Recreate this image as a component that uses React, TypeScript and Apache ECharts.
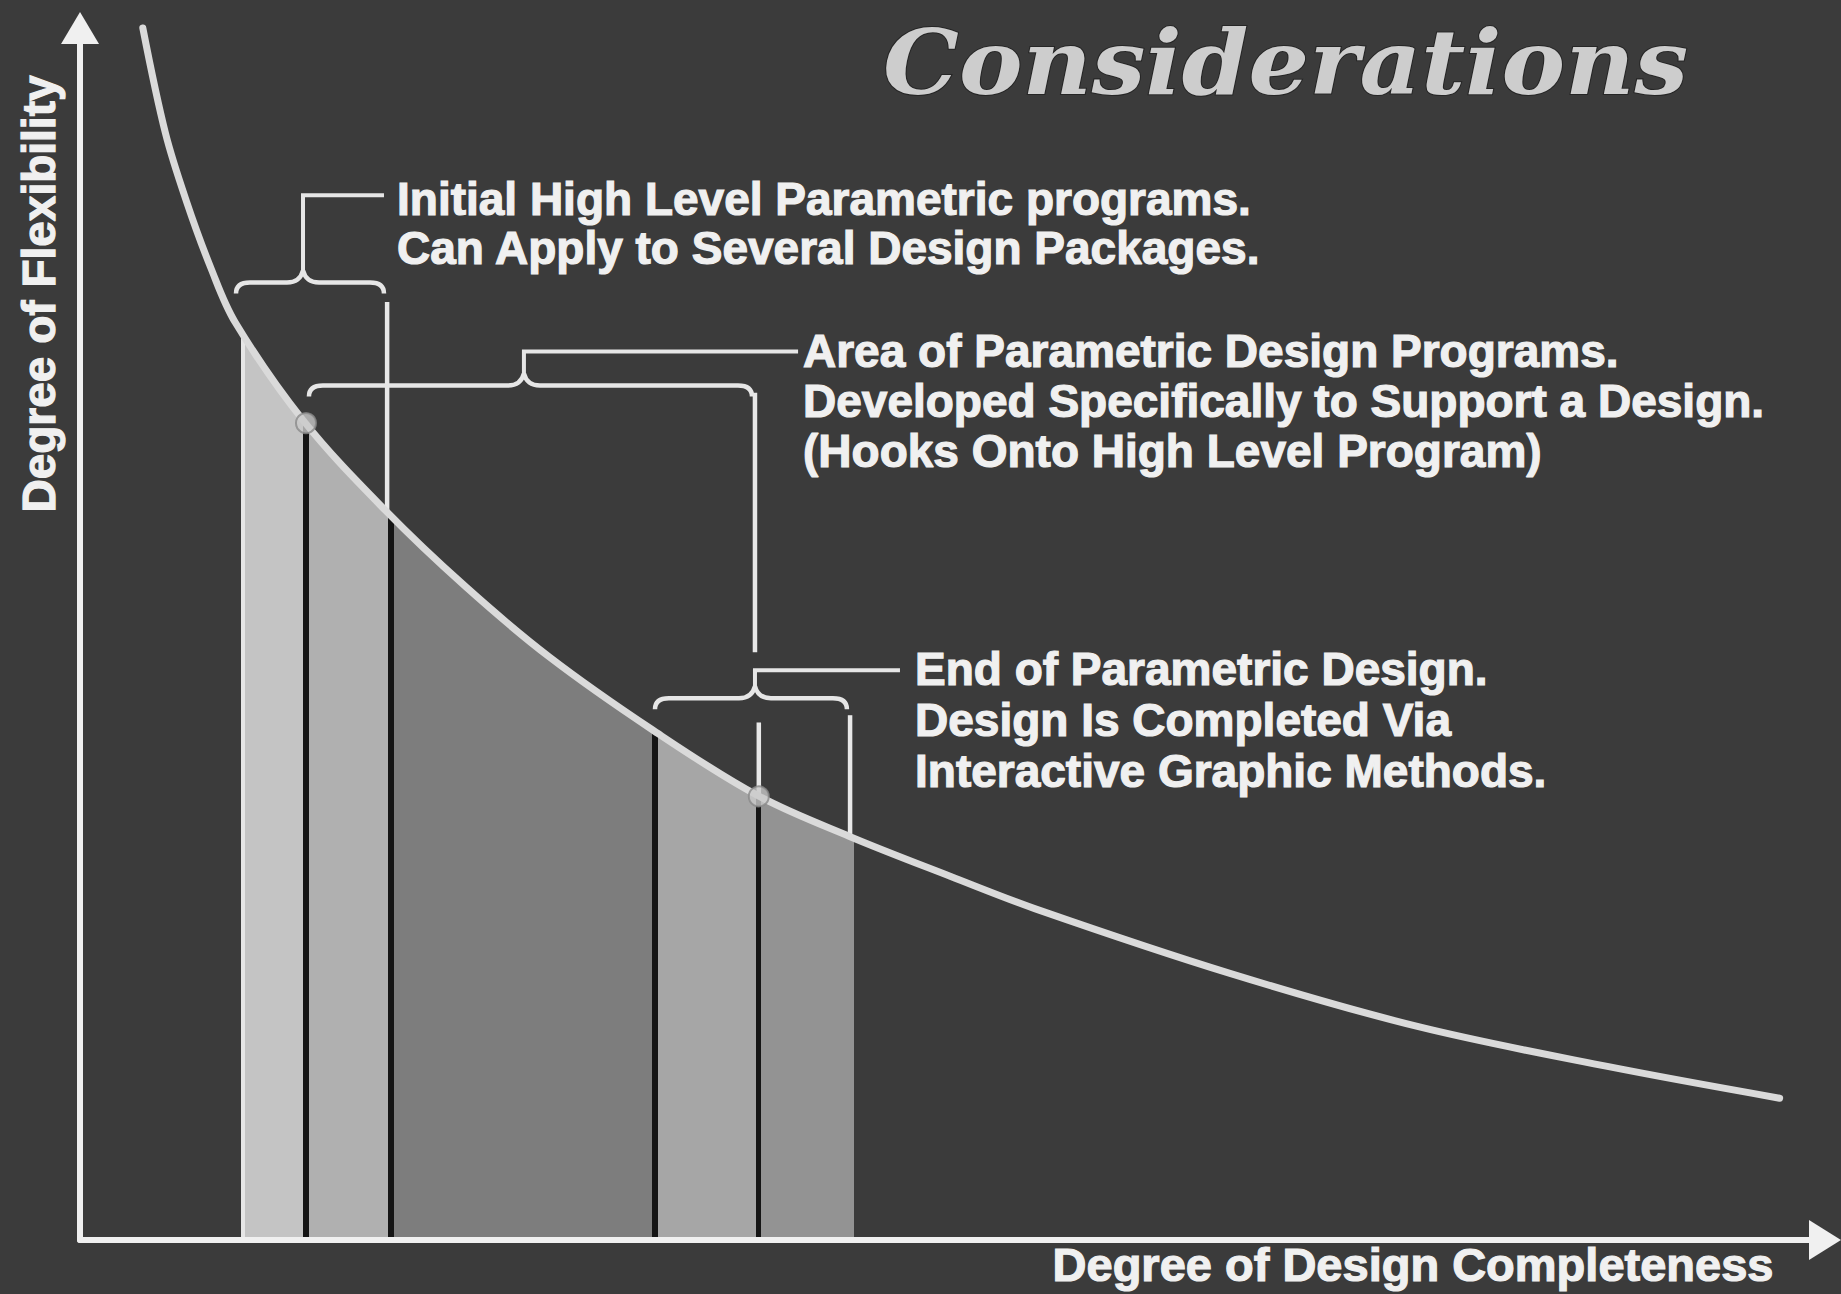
import React, { useEffect, useRef } from "react";
import * as echarts from "echarts";

// ---- Data (axis units 0..100 on both axes) ----
const curveX = [3.6, 4.9, 6.1, 7.5, 8.9, 12.8, 17.5, 22.1, 26.9, 32.8, 38.8, 44.1, 49.9, 55.0, 65.9, 76.7, 87.6, 97.4];
const curveY = [100, 91.3, 85.7, 80.2, 75.7, 67.6, 60.2, 53.9, 48.1, 42.1, 36.7, 33.3, 30.0, 27.2, 22.0, 17.6, 14.3, 11.7];

// shaded vertical strips under the curve
const regionEdges = [9.23, 12.95, 17.82, 32.95, 38.9, 44.36];
const regionShades = ["#c4c4c4", "#b0b0b0", "#7d7d7d", "#a6a6a6", "#939393"];

// points marked on the curve
const markedX = [12.95, 38.9];
const markedY = [67.4, 36.6];

// braces: [left, right, tip, braceY, leaderY, leaderEndX]
const braces = [
  [8.94, 17.42, 12.78, 79.0, 86.2, 17.42],
  [13.12, 38.51, 25.44, 70.5, 73.3, 41.15],
  [32.95, 43.95, 38.68, 44.7, 47.0, 46.99],
];

// white vertical guide segments: [x, yFrom, yTo]
const guides = [
  [17.6, 59.9, 77.4],
  [38.68, 48.5, 69.9],
  [38.9, 36.6, 42.7],
  [44.13, 33.2, 43.3],
];

const titleText = "Considerations";
const yAxisName = "Degree of Flexibility";
const xAxisName = "Degree of Design Completeness";
const note1 = ["Initial High Level Parametric programs.", "Can Apply to Several Design Packages."];
const note2 = [
  "Area of Parametric Design Programs.",
  "Developed Specifically to Support a Design.",
  "(Hooks Onto High Level Program)",
];
const note3 = ["End of Parametric Design.", "Design Is Completed Via", "Interactive Graphic Methods."];

const SANS = '"Liberation Sans", Arial, Helvetica, sans-serif';
const WHITE = "#f0f0f0";

function buildPieces() {
  const sep = 0.15;
  const edgeW = 0.2;
  const pieces: any[] = [];
  pieces.push({ min: regionEdges[0], max: regionEdges[0] + edgeW, color: "#e6e6e6" });
  for (let i = 0; i < regionShades.length; i++) {
    const lo = i === 0 ? regionEdges[0] + edgeW : regionEdges[i] + sep;
    const hi = i === regionShades.length - 1 ? regionEdges[i + 1] : regionEdges[i + 1] - sep;
    pieces.push({ min: lo, max: hi, color: regionShades[i] });
    if (i < regionShades.length - 1) {
      pieces.push({ min: regionEdges[i + 1] - sep, max: regionEdges[i + 1] + sep, color: "#151515" });
    }
  }
  return pieces;
}

function noteText(x: number, y: number, lines: string[], lineHeight: number) {
  return {
    type: "text",
    x,
    y,
    style: {
      text: lines.join("\n"),
      font: `bold 46px ${SANS}`,
      lineHeight,
      fill: WHITE,
      stroke: WHITE,
      lineWidth: 1.2,
      align: "left",
      verticalAlign: "top",
    },
  };
}

export default function App() {
  const ref = useRef<HTMLDivElement>(null);
  useEffect(() => {
    const chart = echarts.init(ref.current!, null, { renderer: "svg" });
    const curve = curveX.map((x, i) => [x, curveY[i]]);
    const axisCommon = {
      type: "value" as const,
      min: 0,
      max: 100,
      z: 10,
      axisTick: { show: false },
      axisLabel: { show: false },
      splitLine: { show: false },
    };
    const option: any = {
      animation: false,
      backgroundColor: "#3b3b3b",
      grid: { left: 80, right: 16, top: 28, bottom: 54 },
      xAxis: {
        ...axisCommon,
        axisLine: {
          show: true,
          onZero: false,
          symbol: ["none", "triangle"],
          symbolSize: [40, 32],
          lineStyle: { color: WHITE, width: 6 },
        },
      },
      yAxis: {
        ...axisCommon,
        axisLine: {
          show: true,
          onZero: false,
          symbol: ["none", "triangle"],
          symbolSize: [38, 32],
          lineStyle: { color: WHITE, width: 6 },
        },
      },
      visualMap: {
        type: "piecewise",
        show: false,
        dimension: 0,
        seriesIndex: 0,
        pieces: buildPieces(),
        outOfRange: { color: "rgba(0,0,0,0)" },
      },
      series: [
        {
          type: "line",
          data: curve,
          smooth: 0.35,
          showSymbol: false,
          lineStyle: { width: 0, opacity: 0 },
          areaStyle: { opacity: 1 },
          z: 1,
          silent: true,
        },
        {
          type: "custom",
          data: guides,
          z: 2,
          silent: true,
          renderItem: (params: any, api: any) => {
            const a = api.coord([api.value(0), api.value(1)]);
            const b = api.coord([api.value(0), api.value(2)]);
            return {
              type: "line",
              shape: { x1: a[0], y1: a[1], x2: b[0], y2: b[1] },
              style: { stroke: "#e8e8e8", lineWidth: 4.5 },
            };
          },
        },
        {
          type: "line",
          data: curve,
          smooth: 0.35,
          showSymbol: false,
          clip: false,
          lineStyle: { width: 7, color: "#dadada", cap: "round" },
          z: 4,
          silent: true,
        },
        {
          type: "scatter",
          data: markedX.map((x, i) => [x, markedY[i]]),
          symbolSize: 20,
          itemStyle: { color: "#c9c9c9", borderColor: "#8a8a8a", borderWidth: 2 },
          z: 5,
          silent: true,
        },
        {
          type: "custom",
          data: braces,
          z: 3,
          silent: true,
          renderItem: (params: any, api: any) => {
            const pL = api.coord([api.value(0), api.value(3)]);
            const pR = api.coord([api.value(1), api.value(3)]);
            const pT = api.coord([api.value(2), api.value(3)]);
            const pLd = api.coord([api.value(2), api.value(4)]);
            const pE = api.coord([api.value(5), api.value(4)]);
            const y = pL[1];
            const xl = pL[0];
            const xr = pR[0];
            const xt = pT[0];
            const c = 11;
            const t = 12;
            const d =
              `M${xl} ${y + c} Q${xl} ${y} ${xl + 14} ${y} L${xt - 16} ${y} ` +
              `Q${xt - 3} ${y} ${xt} ${y - t} Q${xt + 3} ${y} ${xt + 16} ${y} ` +
              `L${xr - 14} ${y} Q${xr} ${y} ${xr} ${y + c}`;
            return {
              type: "group",
              children: [
                { type: "path", shape: { pathData: d }, style: { fill: "none", stroke: "#e6e6e6", lineWidth: 4.5 } },
                {
                  type: "polyline",
                  shape: { points: [[xt, y - t], [xt, pLd[1]], [pE[0], pLd[1]]] },
                  style: { fill: "none", stroke: "#e6e6e6", lineWidth: 4 },
                },
              ],
            };
          },
        },
      ],
      graphic: [
        {
          type: "text",
          x: 883,
          y: 62,
          scaleX: 1.06,
          style: {
            text: titleText,
            font: 'italic bold 90px "DejaVu Serif", serif',
            fill: "#cdcdcd",
            stroke: "#262626",
            lineWidth: 2,
            align: "left",
            verticalAlign: "middle",
          },
        },
        {
          type: "text",
          x: 39,
          y: 294,
          rotation: Math.PI / 2,
          style: {
            text: yAxisName,
            font: `bold 46px ${SANS}`,
            fill: WHITE,
            stroke: WHITE,
            lineWidth: 1.2,
            align: "center",
            verticalAlign: "middle",
          },
        },
        {
          type: "text",
          x: 1413,
          y: 1264,
          style: {
            text: xAxisName,
            font: `bold 47px ${SANS}`,
            fill: WHITE,
            stroke: WHITE,
            lineWidth: 1.2,
            align: "center",
            verticalAlign: "middle",
          },
        },
        noteText(397, 174, note1, 49),
        noteText(803, 326, note2, 50),
        noteText(915, 643, note3, 51),
      ],
    };
    chart.setOption(option);
    return () => chart.dispose();
  }, []);
  return <div ref={ref} style={{ position: "fixed", left: 0, top: 0, width: 1841, height: 1294 }} />;
}
